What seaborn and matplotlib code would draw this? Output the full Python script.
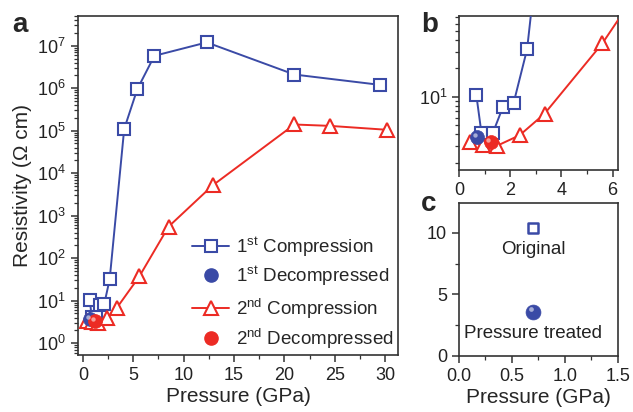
# Resistivity vs pressure: (a) full range, (b) low-pressure zoom, (c) before/after

import matplotlib
matplotlib.use("Agg")
import matplotlib.pyplot as plt
import matplotlib.ticker as mticker
import matplotlib.transforms as mtrans
import pandas as pd
import seaborn as sns

# ── Data ──────────────────────────────────────────────────────────────────────
p_comp1 = [0.68, 0.88, 1.32, 1.71, 2.13, 2.66, 4.1, 5.4, 7.1, 12.3, 21.0, 29.5]
r_comp1 = [10.4, 4.1, 4.1, 7.7, 8.5, 32, 1.1e5, 9.5e5, 5.8e6, 1.2e7, 2.1e6, 1.2e6]

p_comp2 = [0.43, 0.95, 1.47, 2.37, 3.34, 5.6, 8.5, 12.9, 21.0, 24.5, 30.2]
r_comp2 = [3.3, 3.1, 3.0, 3.9, 6.6, 37, 550, 5200, 1.4e5, 1.3e5, 1.05e5]

p_dec1 = [0.71]
r_dec1 = [3.7]
p_dec2 = [1.24]
r_dec2 = [3.27]

c_pressure = [0.7, 0.7]
c_resist = [10.4, 3.6]
c_labels = ["Original", "Pressure treated"]
c_label_y = [8.6, 1.8]

comp1 = pd.DataFrame({"p": p_comp1, "r": r_comp1})
comp2 = pd.DataFrame({"p": p_comp2, "r": r_comp2})

BLUE = "#3a4aa6"
RED = "#ec2b24"
SPINE = "#333333"

sns.set_style("ticks")
plt.rcParams.update({
    "font.family": ["Liberation Sans", "DejaVu Sans"],
    "mathtext.fontset": "custom",
    "mathtext.rm": "Liberation Sans",
    "mathtext.it": "Liberation Sans:italic",
    "mathtext.bf": "Liberation Sans:bold",
    "axes.edgecolor": SPINE,
    "axes.linewidth": 1.2,
    "xtick.color": SPINE,
    "ytick.color": SPINE,
    "xtick.labelcolor": "#222222",
    "ytick.labelcolor": "#222222",
    "xtick.direction": "out",
    "ytick.direction": "out",
    "xtick.major.size": 5,
    "ytick.major.size": 5,
    "xtick.minor.size": 3,
    "ytick.minor.size": 3,
    "xtick.major.width": 1.1,
    "ytick.major.width": 1.1,
    "xtick.minor.width": 0.9,
    "ytick.minor.width": 0.9,
})

fig = plt.figure(figsize=(6.33, 4.12), dpi=100)
ax_a = fig.add_axes([0.123, 0.138, 0.506, 0.823])
ax_b = fig.add_axes([0.725, 0.587, 0.251, 0.374])
ax_c = fig.add_axes([0.725, 0.136, 0.251, 0.371])

sq = dict(marker="s", markersize=8, markerfacecolor="white", markeredgecolor=BLUE,
          markeredgewidth=1.5, color=BLUE, linewidth=1.4)
tri = dict(marker="^", markersize=10, markerfacecolor="white", markeredgecolor=RED,
           markeredgewidth=1.5, color=RED, linewidth=1.4)


def sphere(ax, x, y, color, size=100):
    # shaded ball: solid disc plus a small soft highlight up-left of centre
    sns.scatterplot(x=x, y=y, ax=ax, color=color, s=size, edgecolor=color,
                    linewidth=0.5, zorder=5, legend=False)
    shift = mtrans.offset_copy(ax.transData, fig=fig, x=-1.6, y=1.6, units="points")
    ax.scatter(x, y, s=size * 0.10, color="white", alpha=0.55, zorder=6,
               marker="o", linewidths=0, transform=shift)


def draw_series(ax):
    sns.lineplot(data=comp1, x="p", y="r", ax=ax, legend=False, zorder=3, **sq)
    sphere(ax, p_dec1, r_dec1, BLUE)
    sns.lineplot(data=comp2, x="p", y="r", ax=ax, legend=False, zorder=3, **tri)
    sphere(ax, p_dec2, r_dec2, RED)


# ── Panel a ───────────────────────────────────────────────────────────────────
draw_series(ax_a)
ax_a.set_yscale("log")
ax_a.set_xlim(-0.5, 31.3)
ax_a.set_ylim(0.52, 5e7)
ax_a.xaxis.set_major_locator(mticker.MultipleLocator(5))
ax_a.xaxis.set_minor_locator(mticker.MultipleLocator(2.5))
ax_a.yaxis.set_major_locator(mticker.LogLocator(base=10, numticks=12))
ax_a.yaxis.set_minor_locator(mticker.LogLocator(base=10, subs=range(2, 10), numticks=12))
ax_a.yaxis.set_minor_formatter(mticker.NullFormatter())
ax_a.tick_params(labelsize=13)
ax_a.set_xlabel("Pressure (GPa)", fontsize=15, labelpad=2)
ax_a.set_ylabel("Resistivity (\u03a9 cm)", fontsize=15, labelpad=4)

ball = dict(linestyle="none", marker="o", markersize=9.5)
leg_kw = dict(loc="center left", frameon=False, fontsize=13.5, handlelength=2.0,
              handletextpad=0.35, labelspacing=0.3, borderpad=0, borderaxespad=0)
leg1 = ax_a.legend(
    [plt.Line2D([], [], **sq),
     plt.Line2D([], [], markerfacecolor=BLUE, markeredgecolor=BLUE, **ball)],
    ["1$^{\\mathrm{st}}$ Compression", "1$^{\\mathrm{st}}$ Decompressed"],
    bbox_to_anchor=(0.356, 0.276), **leg_kw)
ax_a.add_artist(leg1)
ax_a.legend(
    [plt.Line2D([], [], **tri),
     plt.Line2D([], [], markerfacecolor=RED, markeredgecolor=RED, **ball)],
    ["2$^{\\mathrm{nd}}$ Compression", "2$^{\\mathrm{nd}}$ Decompressed"],
    bbox_to_anchor=(0.356, 0.093), **leg_kw)

# ── Panel b ───────────────────────────────────────────────────────────────────
draw_series(ax_b)
ax_b.set_yscale("log")
ax_b.set_xlim(0, 6.2)
ax_b.set_ylim(1.66, 72)
ax_b.xaxis.set_major_locator(mticker.MultipleLocator(2))
ax_b.xaxis.set_minor_locator(mticker.MultipleLocator(1))
ax_b.yaxis.set_major_locator(mticker.FixedLocator([10]))
ax_b.yaxis.set_major_formatter(mticker.FixedFormatter(["$\\mathdefault{10^{1}}$"]))
ax_b.yaxis.set_minor_locator(mticker.FixedLocator([2, 3, 4, 5, 6, 7, 8, 9, 20, 30, 40, 50, 60, 70]))
ax_b.yaxis.set_minor_formatter(mticker.NullFormatter())
ax_b.tick_params(labelsize=13)
ax_b.set_xlabel("")
ax_b.set_ylabel("")

# ── Panel c ───────────────────────────────────────────────────────────────────
sns.scatterplot(x=c_pressure[:1], y=c_resist[:1], ax=ax_c, marker="s", s=60,
                facecolor="white", edgecolor=BLUE, linewidth=1.8, zorder=4)
sphere(ax_c, c_pressure[1:], c_resist[1:], BLUE, size=115)
for xv, yv, txt in zip(c_pressure, c_label_y, c_labels):
    ax_c.text(xv, yv, txt, ha="center", va="center", fontsize=13.5, color="#222222")
ax_c.set_xlim(0, 1.5)
ax_c.set_ylim(0, 12.4)
ax_c.xaxis.set_major_locator(mticker.MultipleLocator(0.5))
ax_c.xaxis.set_major_formatter(mticker.FormatStrFormatter("%.1f"))
ax_c.xaxis.set_minor_locator(mticker.MultipleLocator(0.25))
ax_c.yaxis.set_major_locator(mticker.MultipleLocator(5))
ax_c.yaxis.set_minor_locator(mticker.MultipleLocator(2.5))
ax_c.tick_params(labelsize=13)
ax_c.set_xlabel("Pressure (GPa)", fontsize=15, labelpad=2)
ax_c.set_ylabel("")

# ── Panel letters ─────────────────────────────────────────────────────────────
for txt, (fx, fy) in zip("abc", [(0.02, 0.94), (0.665, 0.94), (0.665, 0.505)]):
    fig.text(fx, fy, txt, fontsize=20, fontweight="bold", ha="left", va="center")

fig.savefig("out.png", dpi=100)
